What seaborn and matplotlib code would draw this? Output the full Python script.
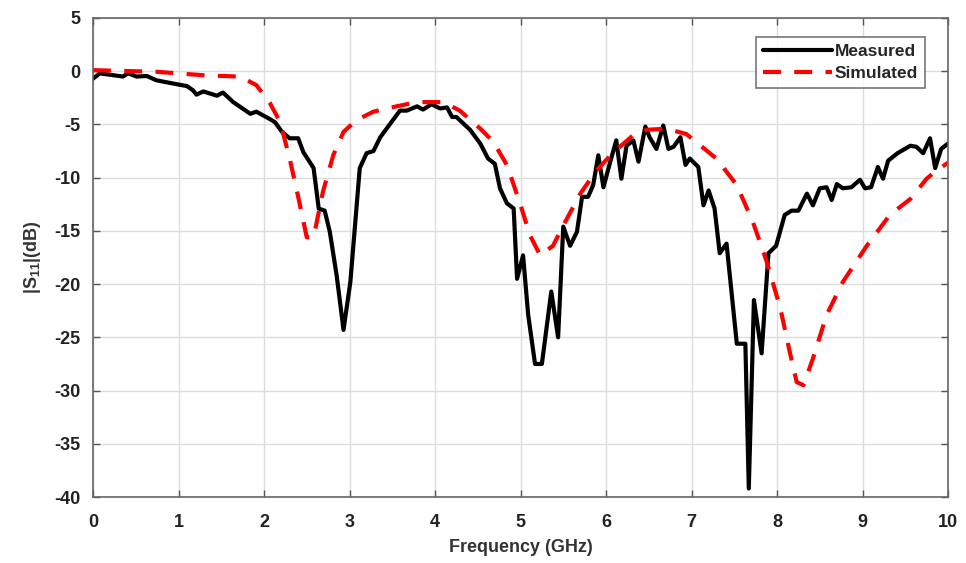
import matplotlib
matplotlib.use("Agg")
import matplotlib.pyplot as plt
import seaborn as sns
import pandas as pd

# Measured |S11| (dB)
meas_f = [0.0, 0.08, 0.35, 0.41, 0.51, 0.63, 0.74, 0.94, 1.10, 1.17, 1.21, 1.29, 1.45, 1.52,
          1.64, 1.84, 1.91, 2.07, 2.13, 2.21, 2.30, 2.40, 2.46, 2.58, 2.64, 2.71, 2.77, 2.85,
          2.93, 3.01, 3.12, 3.20, 3.28, 3.36, 3.47, 3.59, 3.67, 3.79, 3.86, 3.96, 4.06, 4.14,
          4.20, 4.25, 4.41, 4.53, 4.62, 4.70, 4.76, 4.84, 4.92, 4.96, 5.03, 5.09, 5.17, 5.25,
          5.36, 5.44, 5.50, 5.58, 5.66, 5.72, 5.79, 5.85, 5.91, 5.97, 6.05, 6.12, 6.18, 6.24,
          6.32, 6.38, 6.46, 6.51, 6.59, 6.67, 6.73, 6.79, 6.87, 6.93, 6.98, 7.08, 7.14, 7.20,
          7.27, 7.33, 7.41, 7.53, 7.63, 7.67, 7.73, 7.82, 7.90, 7.99, 8.09, 8.17, 8.25, 8.35,
          8.42, 8.50, 8.58, 8.64, 8.70, 8.77, 8.87, 8.97, 9.03, 9.10, 9.18, 9.24, 9.30, 9.41,
          9.56, 9.63, 9.71, 9.79, 9.85, 9.92, 10.0]
meas_db = [-0.7, -0.2, -0.5, -0.2, -0.5, -0.45, -0.85, -1.16, -1.4, -1.8, -2.2, -1.9, -2.3, -2.0,
           -2.9, -4.0, -3.8, -4.5, -4.8, -5.7, -6.3, -6.3, -7.6, -9.1, -12.9, -13.1, -15.1, -19.2,
           -24.3, -19.8, -9.1, -7.7, -7.5, -6.2, -5.0, -3.7, -3.7, -3.3, -3.6, -3.1, -3.5, -3.4,
           -4.3, -4.3, -5.5, -6.8, -8.2, -8.7, -11.0, -12.4, -12.9, -19.5, -17.3, -22.9, -27.5, -27.5,
           -20.7, -25.0, -14.6, -16.4, -15.1, -11.8, -11.8, -10.7, -7.9, -10.9, -8.5, -6.5, -10.1, -7.0,
           -6.5, -8.5, -5.2, -6.2, -7.3, -5.1, -7.3, -7.1, -6.2, -8.8, -8.2, -9.0, -12.6, -11.2,
           -12.9, -17.1, -16.2, -25.6, -25.6, -39.2, -21.5, -26.5, -17.1, -16.4, -13.5, -13.1, -13.1, -11.5,
           -12.6, -11.0, -10.9, -12.1, -10.6, -11.0, -10.9, -10.2, -11.0, -10.9, -9.0, -10.1, -8.4, -7.7,
           -7.0, -7.1, -7.7, -6.3, -9.1, -7.3, -6.8]

# Simulated |S11| (dB)
sim_f = [0.0, 0.74, 1.33, 1.72, 1.91, 2.07, 2.19, 2.30, 2.40, 2.50, 2.58, 2.69, 2.81, 2.93,
         3.08, 3.28, 3.55, 3.79, 4.10, 4.29, 4.53, 4.68, 4.84, 4.99, 5.11, 5.23, 5.38, 5.50,
         5.70, 5.89, 6.09, 6.32, 6.48, 6.71, 6.94, 7.29, 7.53, 7.72, 7.88, 8.04, 8.15, 8.23,
         8.31, 8.42, 8.58, 8.77, 9.05, 9.32, 9.56, 9.75, 9.87, 10.0]
sim_db = [0.1, -0.05, -0.4, -0.5, -1.3, -3.0, -4.8, -8.2, -11.8, -15.6, -15.6, -11.3, -7.9, -5.7,
          -4.6, -3.8, -3.3, -2.9, -2.9, -3.7, -5.4, -6.6, -8.8, -12.3, -15.4, -17.3, -16.4, -14.5,
          -11.5, -9.3, -7.6, -6.0, -5.5, -5.4, -5.9, -8.2, -10.7, -14.2, -17.9, -22.3, -26.4, -29.2,
          -29.5, -27.0, -22.9, -19.8, -16.4, -13.5, -12.0, -10.1, -9.3, -8.6]

x_ticks = [0, 1, 2, 3, 4, 5, 6, 7, 8, 9, 10]
y_ticks = [5, 0, -5, -10, -15, -20, -25, -30, -35, -40]

sns.set_theme(style="white")
fam = ['Liberation Sans Narrow', 'Liberation Sans', 'DejaVu Sans']
plt.rcParams['font.family'] = fam
plt.rcParams['font.weight'] = 'bold'
plt.rcParams['mathtext.fontset'] = 'custom'
plt.rcParams['mathtext.bf'] = 'Liberation Sans:bold'
plt.rcParams['mathtext.rm'] = 'Liberation Sans:bold'
plt.rcParams['mathtext.default'] = 'bf'

fig = plt.figure(figsize=(9.66, 5.63), dpi=100)
ax = fig.add_axes([93/966, 1-497/563, (948-93)/966, (497-18)/563])

df_m = pd.DataFrame({'f': meas_f, 's': meas_db})
df_s = pd.DataFrame({'f': sim_f, 's': sim_db})
sns.lineplot(data=df_m, x='f', y='s', ax=ax, color='black', linewidth=3.0,
             label='Measured', sort=False, estimator=None)
sns.lineplot(data=df_s, x='f', y='s', ax=ax, color='#ff0000', linewidth=3.0,
             linestyle=(0, (4.3, 3.2)), label='Simulated', sort=False, estimator=None)

ax.set_xlim(0, 10)
ax.set_ylim(-40, 5)
ax.set_xticks(x_ticks)
ax.set_yticks(y_ticks)
ax.set_xticklabels([str(t) for t in x_ticks], fontsize=13, fontweight='bold', color='#222222')
ax.set_yticklabels([str(t) for t in y_ticks], fontsize=13, fontweight='bold', color='#222222')
ax.grid(True, color='#dcdcdc', linewidth=1.0)
ax.tick_params(direction='in', length=5, width=1, color='#555555', top=True, right=True,
               bottom=True, left=True)
ax.tick_params(axis='x', pad=12)
ax.tick_params(axis='y', pad=9)
for sp in ax.spines.values():
    sp.set_color('#666666')
    sp.set_linewidth(1.2)

ax.set_xlabel('Frequency (GHz)', fontsize=13, fontweight='bold', color='#333333', labelpad=6)
ax.set_ylabel(r'|S$_{11}$|(dB)', fontsize=13, fontweight='bold', color='#333333', labelpad=8)

leg = ax.legend(loc='upper right', bbox_to_anchor=(0.977, 0.968), fontsize=12.5,
                frameon=True, fancybox=False, handlelength=4.0, handletextpad=0.15,
                borderpad=0.4, labelspacing=0.4, borderaxespad=0.2)
leg.get_frame().set_edgecolor('#555555')
leg.get_frame().set_linewidth(1.2)
for t in leg.get_texts():
    t.set_fontweight('bold')

fig.savefig('out.png', dpi=100)
